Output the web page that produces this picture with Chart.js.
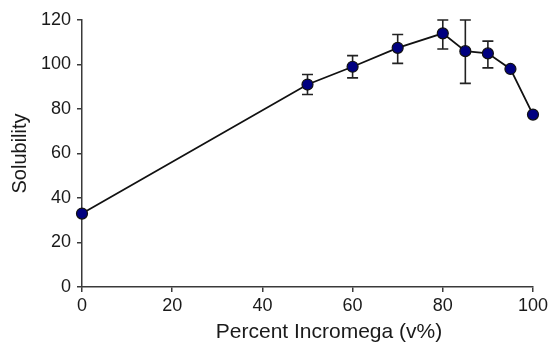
<!DOCTYPE html>
<html>
<head>
<meta charset="utf-8">
<script src="https://cdn.jsdelivr.net/npm/chart.js@4/dist/chart.umd.min.js"></script>
<style>
	html, body { margin: 0; padding: 0; background: #fff; }
	#wrap { width: 551px; height: 349px; }
</style>
</head>
<body>
<div id="wrap"><canvas id="chart-area"></canvas></div>
<script>
/*
 * data
 */
var percent = [0, 50, 60, 70, 80, 85, 90, 95, 100];
var solubility = [33, 91, 99, 107.5, 114, 106, 105, 98, 77.5];
var errLow = [null, 86.5, 94, 100.5, 107, 91.5, 98.5, null, null];
var errHigh = [null, 95.5, 104, 113.5, 120, 120, 110.5, null, null];
var xTicks = [0, 20, 40, 60, 80, 100];
var yTicks = [0, 20, 40, 60, 80, 100, 120];
var xTitle = 'Percent Incromega (v%)';

var points = [];
for (var i = 0; i < percent.length; i++) {
	points.push({ x : percent[i], y : solubility[i] });
}

var fontFam = "'Liberation Sans', Arial, sans-serif";
var axisColor = "#3a3a3a";

/*
 * error bars, drawn under the markers
 */
var errorBars = {
	id : 'errorBars',
	beforeDatasetsDraw : function(chart) {
		var ctx = chart.ctx;
		var xs = chart.scales.x, ys = chart.scales.y;
		ctx.save();
		ctx.strokeStyle = "#222";
		ctx.lineWidth = 1.6;
		for (var i = 0; i < percent.length; i++) {
			if (errLow[i] == null) continue;
			var px = xs.getPixelForValue(percent[i]);
			var lo = ys.getPixelForValue(errLow[i]);
			var hi = ys.getPixelForValue(errHigh[i]);
			ctx.beginPath();
			ctx.moveTo(px, lo); ctx.lineTo(px, hi);
			ctx.moveTo(px - 5.5, lo); ctx.lineTo(px + 5.5, lo);
			ctx.moveTo(px - 5.5, hi); ctx.lineTo(px + 5.5, hi);
			ctx.stroke();
		}
		ctx.restore();
	}
};

/*
 * x title sits a bit right of the axis centre in the original
 */
var xTitlePlugin = {
	id : 'xTitle',
	afterDraw : function(chart) {
		var ctx = chart.ctx;
		ctx.save();
		ctx.fillStyle = "#1a1a1a";
		ctx.font = "21px " + fontFam;
		ctx.textAlign = "center";
		ctx.textBaseline = "alphabetic";
		ctx.fillText(xTitle, 329, 338);
		ctx.restore();
	}
};

var config = {
	type : 'scatter',
	data : {
		datasets : [ {
			data : points,
			showLine : true,
			borderColor : "#111",
			borderWidth : 1.8,
			tension : 0,
			pointRadius : 5.5,
			pointBackgroundColor : "#000080",
			pointBorderColor : "#111",
			pointBorderWidth : 1.2,
			clip : false
		} ]
	},
	options : {
		responsive : true,
		maintainAspectRatio : false,
		animation : false,
		layout : { padding : { top : 20, right : 17, left : 0, bottom : 0 } },
		plugins : { legend : { display : false }, tooltip : { enabled : false } },
		scales : {
			x : {
				type : 'linear',
				min : 0, max : 100,
				afterBuildTicks : function(s) { s.ticks = xTicks.map(function(v) { return { value : v }; }); },
				afterFit : function(s) { s.height = 62; },
				border : { color : axisColor, width : 1.5 },
				grid : { drawOnChartArea : false, drawTicks : true, tickLength : 5, color : axisColor, lineWidth : 1.5 },
				ticks : { color : "#1a1a1a", padding : 3, maxRotation : 0, font : { family : fontFam, size : 18 } },
				title : { display : false }
			},
			y : {
				min : 0, max : 120,
				afterBuildTicks : function(s) { s.ticks = yTicks.map(function(v) { return { value : v }; }); },
				afterFit : function(s) { s.width = 82; },
				border : { color : axisColor, width : 1.5 },
				grid : { drawOnChartArea : false, drawTicks : true, tickLength : 5, color : axisColor, lineWidth : 1.5 },
				ticks : { color : "#1a1a1a", padding : 6, font : { family : fontFam, size : 18 } },
				title : { display : true, text : 'Solubility', color : "#1a1a1a",
					padding : { top : 8, bottom : 0 }, font : { family : fontFam, size : 20 } }
			}
		}
	},
	plugins : [ errorBars, xTitlePlugin ]
};

window.onload = function() {
	var ctx = document.getElementById('chart-area').getContext('2d');
	window.myChart = new Chart(ctx, config);
};
</script>
</body>
</html>
